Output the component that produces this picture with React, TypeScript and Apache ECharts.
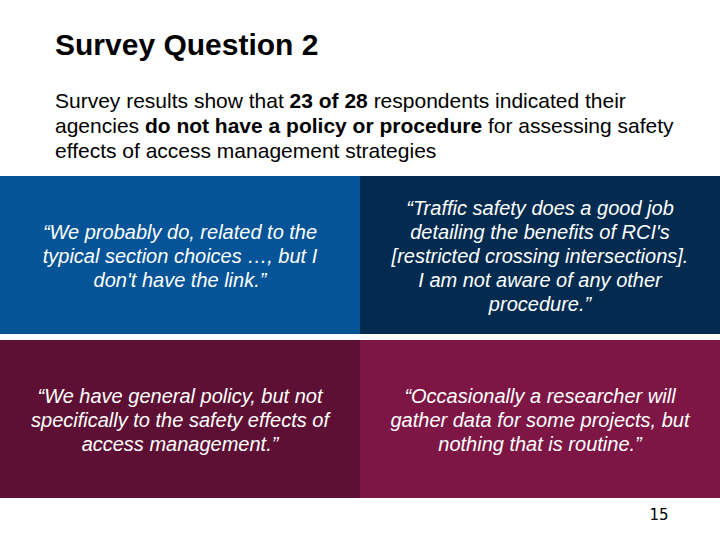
import React, { useEffect, useRef } from "react";
import * as echarts from "echarts";

const titleText = "Survey Question 2";
const introLines = [
  "Survey results show that {b|23 of 28} respondents indicated their",
  "agencies {b|do not have a policy or procedure} for assessing safety",
  "effects of access management strategies",
];
const quotes = [
  "\u201cWe probably do, related to the\ntypical section choices \u2026, but I\ndon't have the link.\u201d",
  "\u201cTraffic safety does a good job\ndetailing the benefits of RCI's\n[restricted crossing intersections].\nI am not aware of any other\nprocedure.\u201d",
  "\u201cWe have general policy, but not\nspecifically to the safety effects of\naccess management.\u201d",
  "\u201cOccasionally a researcher will\ngather data for some projects, but\nnothing that is routine.\u201d",
];
const quoteColors = ["#045497", "#022b4f", "#5e1034", "#7d1645"];
const pageNumber = "15";

export default function App() {
  const ref = useRef<HTMLDivElement>(null);
  useEffect(() => {
    if (!ref.current) return;
    const chart = echarts.init(ref.current, undefined, { renderer: "svg" });
    const cells = [
      { x: 0, y: 176, w: 360, h: 158 },
      { x: 360, y: 176, w: 360, h: 158 },
      { x: 0, y: 340, w: 360, h: 158 },
      { x: 360, y: 340, w: 360, h: 158 },
    ];
    const elements: any[] = [];
    quotes.forEach((q, i) => {
      const c = cells[i];
      elements.push({
        type: "rect",
        shape: { x: c.x, y: c.y, width: c.w, height: c.h },
        style: { fill: quoteColors[i] },
      });
      elements.push({
        type: "text",
        x: c.x + c.w / 2,
        y: c.y + c.h / 2 + 0.5,
        style: {
          text: q,
          fill: "#ffffff",
          font: "italic 20px 'Liberation Sans', Arial, sans-serif",
          align: "center",
          verticalAlign: "middle",
          lineHeight: 24,
        },
      });
    });
    elements.push({
      type: "text",
      x: 55,
      y: 44,
      style: {
        text: titleText,
        fill: "#000000",
        font: "bold 30px 'Liberation Sans', Arial, sans-serif",
        align: "left",
        verticalAlign: "middle",
      },
    });
    introLines.forEach((line, i) => {
      elements.push({
        type: "text",
        x: 55,
        y: 100 + i * 25,
        style: {
          text: line,
          fill: "#000000",
          font: "21px 'Liberation Sans', Arial, sans-serif",
          align: "left",
          verticalAlign: "middle",
          rich: {
            b: {
              fontWeight: "bold",
              fontSize: 21,
              fontFamily: "'Liberation Sans', Arial, sans-serif",
              fill: "#000000",
            },
          },
        },
      });
    });
    elements.push({
      type: "text",
      x: 659,
      y: 515,
      style: {
        text: pageNumber,
        fill: "#000000",
        font: "15px 'DejaVu Sans', sans-serif",
        align: "center",
        verticalAlign: "middle",
      },
    });
    chart.setOption({
      animation: false,
      backgroundColor: "#ffffff",
      graphic: { elements },
    });
    return () => chart.dispose();
  }, []);
  return (
    <div
      ref={ref}
      style={{ position: "fixed", left: 0, top: 0, width: 720, height: 540 }}
    />
  );
}
